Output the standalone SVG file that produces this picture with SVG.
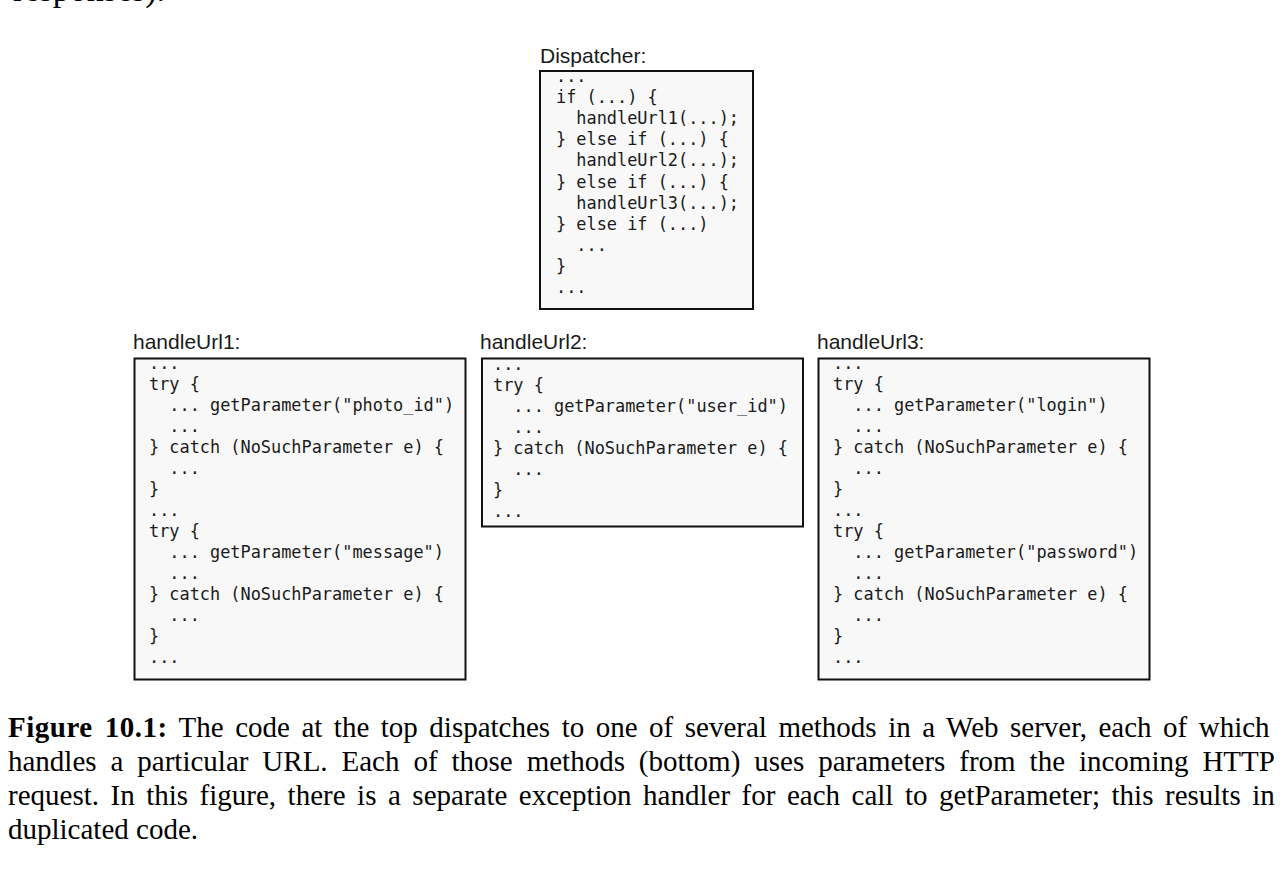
<svg xmlns="http://www.w3.org/2000/svg" width="1288" height="873" viewBox="0 0 1288 873" xml:space="preserve">
<style>
.box{fill:#f8f8f8;stroke:#111;stroke-width:2}
.lbl{font-family:"Liberation Sans",Arial,sans-serif;font-size:21px;fill:#1a1a1a}
.code text{font-family:"DejaVu Sans Mono","Liberation Mono",monospace;font-size:16.9px;fill:#1a1a1a;white-space:pre}
.cap{font-family:"Liberation Serif","Times New Roman",serif;font-size:29px;fill:#000}
</style>
<rect width="1288" height="873" fill="#fff"/>
<text class="cap" x="13" y="0.5" style="font-size:34px">responses).</text>
<g id="connectors"/>
<g id="dispatcher">
<text class="lbl" x="540" y="63">Dispatcher:</text>
<rect class="box" x="540" y="71" width="213" height="238"/>
<g class="code">
<text x="556" y="82">...</text>
<text x="556" y="103.1">if (...) {</text>
<text x="556" y="124.2">  handleUrl1(...);</text>
<text x="556" y="145.3">} else if (...) {</text>
<text x="556" y="166.4">  handleUrl2(...);</text>
<text x="556" y="187.5">} else if (...) {</text>
<text x="556" y="208.6">  handleUrl3(...);</text>
<text x="556" y="229.7">} else if (...)</text>
<text x="556" y="250.8">  ...</text>
<text x="556" y="271.9">}</text>
<text x="556" y="293">...</text>
</g>
</g>
<g id="handleUrl1">
<text class="lbl" x="133" y="349">handleUrl1:</text>
<rect class="box" x="134.5" y="358.5" width="331" height="321"/>
<g class="code">
<text x="149" y="369">...</text>
<text x="149" y="390">try {</text>
<text x="149" y="411">  ... getParameter("photo_id")</text>
<text x="149" y="432">  ...</text>
<text x="149" y="453">} catch (NoSuchParameter e) {</text>
<text x="149" y="474">  ...</text>
<text x="149" y="495">}</text>
<text x="149" y="516">...</text>
<text x="149" y="537">try {</text>
<text x="149" y="558">  ... getParameter("message")</text>
<text x="149" y="579">  ...</text>
<text x="149" y="600">} catch (NoSuchParameter e) {</text>
<text x="149" y="621">  ...</text>
<text x="149" y="642">}</text>
<text x="149" y="663">...</text>
</g>
</g>
<g id="handleUrl2">
<text class="lbl" x="480" y="349">handleUrl2:</text>
<rect class="box" x="482" y="358.5" width="321" height="168"/>
<g class="code">
<text x="493" y="370">...</text>
<text x="493" y="391">try {</text>
<text x="493" y="412">  ... getParameter("user_id")</text>
<text x="493" y="433">  ...</text>
<text x="493" y="454">} catch (NoSuchParameter e) {</text>
<text x="493" y="475">  ...</text>
<text x="493" y="496">}</text>
<text x="493" y="517">...</text>
</g>
</g>
<g id="handleUrl3">
<text class="lbl" x="817" y="349">handleUrl3:</text>
<rect class="box" x="818.5" y="358.5" width="331" height="321"/>
<g class="code">
<text x="833" y="369">...</text>
<text x="833" y="390">try {</text>
<text x="833" y="411">  ... getParameter("login")</text>
<text x="833" y="432">  ...</text>
<text x="833" y="453">} catch (NoSuchParameter e) {</text>
<text x="833" y="474">  ...</text>
<text x="833" y="495">}</text>
<text x="833" y="516">...</text>
<text x="833" y="537">try {</text>
<text x="833" y="558">  ... getParameter("password")</text>
<text x="833" y="579">  ...</text>
<text x="833" y="600">} catch (NoSuchParameter e) {</text>
<text x="833" y="621">  ...</text>
<text x="833" y="642">}</text>
<text x="833" y="663">...</text>
</g>
</g>
<g id="caption" class="cap">
<text x="8" y="737" word-spacing="4.26"><tspan font-weight="bold" letter-spacing="0.5">Figure 10.1:</tspan> The code at the top dispatches to one of several methods in a Web server, each of which</text>
<text x="8" y="771" word-spacing="6.68">handles a particular URL. Each of those methods (bottom) uses parameters from the incoming HTTP</text>
<text x="8" y="805" word-spacing="4.27">request. In this figure, there is a separate exception handler for each call to getParameter; this results in</text>
<text x="8" y="839">duplicated code.</text>
</g>
</svg>
